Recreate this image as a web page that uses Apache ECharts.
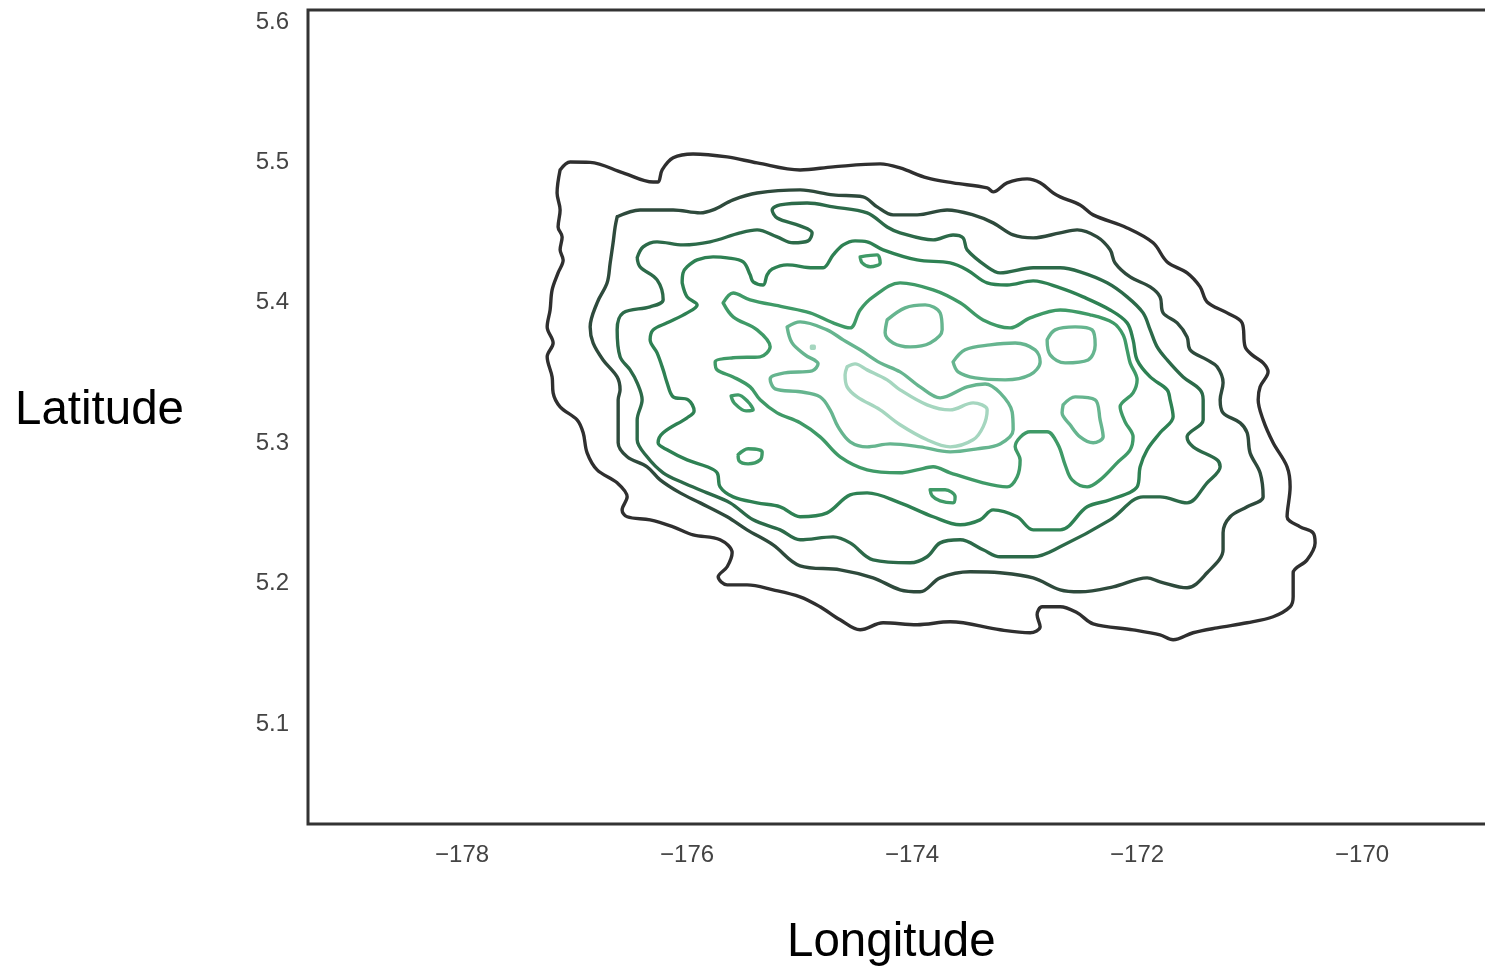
<!DOCTYPE html>
<html>
<head>
<meta charset="utf-8">
<script src="https://cdn.jsdelivr.net/npm/echarts@6/dist/echarts.min.js"></script>
<style>
html,body{margin:0;padding:0;background:#fff;}
#chart{width:1485px;height:974px;}
</style>
</head>
<body>
<div id="chart"></div>
<script>
// ---- tick labels ----
const xTicks = [-178, -176, -174, -172, -170];
const yTicks = [5.1, 5.2, 5.3, 5.4, 5.5, 5.6];
const xRange = [-179.37, -168.81];
const yRange = [5.0288, 5.6085];

// ---- contour levels (outer -> inner), each a list of [longitude, latitude] ----
const level1 = [[-177.129,5.4946],[-177.04,5.5003],[-176.862,5.5],[-176.569,5.4925],[-176.302,5.486],[-176.258,5.486],[-176.222,5.4946],[-176.124,5.5032],[-175.947,5.506],[-175.644,5.5039],[-175.378,5.4996],[-174.996,5.4946],[-174.702,5.4968],[-174.284,5.4989],[-174.107,5.496],[-173.867,5.4889],[-173.636,5.4854],[-173.333,5.4818],[-173.28,5.479],[-173.156,5.4854],[-172.978,5.4882],[-172.862,5.4854],[-172.747,5.4782],[-172.684,5.4754],[-172.507,5.4697],[-172.391,5.4626],[-172.089,5.4533],[-171.858,5.4427],[-171.733,5.4291],[-171.556,5.4213],[-171.44,5.4113],[-171.378,5.4006],[-171.2,5.3928],[-171.067,5.3857],[-171.04,5.3686],[-170.978,5.3629],[-170.88,5.3572],[-170.836,5.3508],[-170.907,5.3401],[-170.924,5.3309],[-170.88,5.3166],[-170.791,5.3003],[-170.667,5.2832],[-170.64,5.2689],[-170.667,5.2476],[-170.551,5.2404],[-170.436,5.2362],[-170.418,5.229],[-170.489,5.2169],[-170.613,5.2077],[-170.613,5.1906],[-170.64,5.1835],[-170.791,5.1764],[-171.022,5.1721],[-171.289,5.1685],[-171.502,5.165],[-171.68,5.16],[-171.796,5.1635],[-172.036,5.1671],[-172.391,5.1714],[-172.533,5.1792],[-172.684,5.1835],[-172.844,5.1835],[-172.889,5.1778],[-172.862,5.1692],[-172.951,5.165],[-173.218,5.1671],[-173.662,5.1728],[-173.956,5.1707],[-174.258,5.1721],[-174.462,5.1671],[-174.64,5.1742],[-174.818,5.1835],[-174.996,5.1906],[-175.236,5.1956],[-175.467,5.1991],[-175.644,5.1991],[-175.724,5.2048],[-175.644,5.212],[-175.6,5.2219],[-175.707,5.2312],[-175.947,5.2347],[-176.124,5.2404],[-176.329,5.2454],[-176.533,5.2476],[-176.578,5.2525],[-176.533,5.2618],[-176.622,5.2718],[-176.8,5.281],[-176.889,5.2931],[-176.924,5.3074],[-176.978,5.3166],[-177.129,5.3259],[-177.191,5.3358],[-177.2,5.3472],[-177.244,5.3615],[-177.191,5.3714],[-177.244,5.3828],[-177.218,5.3949],[-177.2,5.4092],[-177.147,5.4213],[-177.102,5.4305],[-177.129,5.4377],[-177.111,5.4469],[-177.147,5.454],[-177.129,5.4661],[-177.156,5.4782],[-177.129,5.4946]];

const level2 = [[-176.622,5.4612],[-176.418,5.4661],[-176.124,5.4661],[-175.884,5.464],[-175.769,5.4661],[-175.591,5.4733],[-175.378,5.4782],[-174.996,5.4804],[-174.702,5.4768],[-174.436,5.4754],[-174.311,5.4683],[-174.169,5.4626],[-173.956,5.4626],[-173.689,5.4661],[-173.458,5.4626],[-173.28,5.4569],[-173.102,5.4483],[-172.924,5.4462],[-172.684,5.4498],[-172.533,5.4519],[-172.356,5.4469],[-172.24,5.4377],[-172.196,5.4284],[-172.062,5.4184],[-171.884,5.4113],[-171.796,5.4042],[-171.769,5.3928],[-171.644,5.3857],[-171.556,5.3757],[-171.529,5.3665],[-171.378,5.3593],[-171.289,5.3544],[-171.236,5.343],[-171.262,5.3309],[-171.236,5.3216],[-171.084,5.3145],[-171.022,5.3074],[-170.996,5.2931],[-170.907,5.2789],[-170.88,5.2618],[-171.022,5.2547],[-171.173,5.2476],[-171.236,5.2362],[-171.236,5.2241],[-171.378,5.2077],[-171.556,5.197],[-171.796,5.2013],[-171.911,5.2041],[-172.213,5.1977],[-172.507,5.1942],[-172.684,5.1956],[-172.924,5.2041],[-173.218,5.2077],[-173.484,5.2084],[-173.751,5.2041],[-173.929,5.1942],[-174.107,5.1956],[-174.347,5.2041],[-174.64,5.2098],[-174.996,5.2127],[-175.236,5.2276],[-175.467,5.2383],[-175.644,5.2476],[-175.884,5.2575],[-176.062,5.2646],[-176.24,5.2739],[-176.356,5.2832],[-176.533,5.2903],[-176.613,5.3003],[-176.613,5.3166],[-176.613,5.3309],[-176.596,5.338],[-176.622,5.3472],[-176.747,5.3593],[-176.836,5.3714],[-176.862,5.3828],[-176.8,5.4],[-176.711,5.4142],[-176.684,5.4284],[-176.658,5.4427],[-176.64,5.454],[-176.622,5.4612]];

const level3 = [[-176.444,5.432],[-176.391,5.4398],[-176.267,5.4434],[-176.036,5.4412],[-175.796,5.4434],[-175.529,5.4498],[-175.378,5.4519],[-175.2,5.4469],[-175.058,5.4427],[-174.924,5.4441],[-174.889,5.4498],[-174.996,5.4548],[-175.2,5.4604],[-175.244,5.4661],[-175.173,5.4697],[-174.933,5.4711],[-174.702,5.4683],[-174.4,5.464],[-174.222,5.454],[-174.107,5.4498],[-173.813,5.4448],[-173.636,5.4483],[-173.547,5.4462],[-173.511,5.4377],[-173.333,5.4256],[-173.218,5.4213],[-172.924,5.4249],[-172.684,5.4249],[-172.507,5.422],[-172.267,5.4142],[-172.089,5.4042],[-171.947,5.3928],[-171.884,5.3807],[-171.822,5.3686],[-171.733,5.3593],[-171.591,5.3472],[-171.44,5.338],[-171.413,5.3309],[-171.413,5.3166],[-171.556,5.3045],[-171.502,5.2974],[-171.289,5.2881],[-171.262,5.2832],[-171.378,5.2718],[-171.556,5.2575],[-171.796,5.2618],[-171.947,5.2618],[-172.24,5.2454],[-172.684,5.2262],[-172.924,5.2191],[-173.218,5.2191],[-173.369,5.2241],[-173.573,5.2312],[-173.751,5.229],[-173.867,5.2191],[-174.018,5.2148],[-174.347,5.2169],[-174.551,5.229],[-174.702,5.2333],[-174.996,5.2312],[-175.173,5.2383],[-175.413,5.2454],[-175.618,5.2575],[-175.822,5.2646],[-176.036,5.2718],[-176.213,5.2789],[-176.356,5.2903],[-176.444,5.3024],[-176.444,5.3166],[-176.4,5.3309],[-176.444,5.343],[-176.507,5.3522],[-176.596,5.3615],[-176.622,5.3807],[-176.569,5.3928],[-176.329,5.3971],[-176.213,5.4021],[-176.267,5.4163],[-176.418,5.4256],[-176.444,5.432]];

const level4 = [[-176.044,5.4142],[-176.036,5.4213],[-176.0,5.4256],[-175.911,5.4305],[-175.769,5.4327],[-175.644,5.432],[-175.502,5.4291],[-175.44,5.4199],[-175.413,5.4149],[-175.324,5.4127],[-175.289,5.4199],[-175.244,5.4241],[-175.111,5.427],[-174.88,5.4249],[-174.791,5.4249],[-174.702,5.4341],[-174.613,5.4412],[-174.507,5.4441],[-174.4,5.4434],[-174.258,5.4377],[-173.956,5.4305],[-173.662,5.4284],[-173.511,5.4234],[-173.333,5.4142],[-173.156,5.4127],[-172.924,5.4156],[-172.684,5.4106],[-172.48,5.4042],[-172.24,5.3949],[-172.089,5.3857],[-172.036,5.3736],[-172.0,5.3593],[-171.884,5.3472],[-171.733,5.338],[-171.707,5.3309],[-171.68,5.3188],[-171.796,5.3074],[-171.911,5.2953],[-171.973,5.2832],[-172.0,5.2689],[-172.24,5.2597],[-172.444,5.2547],[-172.684,5.2383],[-172.924,5.2383],[-173.067,5.2476],[-173.28,5.2525],[-173.396,5.2454],[-173.573,5.2419],[-173.813,5.2476],[-174.107,5.2575],[-174.4,5.2646],[-174.551,5.2632],[-174.756,5.2504],[-174.996,5.2476],[-175.173,5.2547],[-175.378,5.2575],[-175.591,5.2618],[-175.707,5.2689],[-175.733,5.2789],[-175.822,5.2832],[-176.0,5.2881],[-176.178,5.2953],[-176.258,5.3003],[-176.213,5.3074],[-176.0,5.3181],[-175.938,5.323],[-175.991,5.3309],[-176.124,5.333],[-176.178,5.343],[-176.213,5.3522],[-176.267,5.3643],[-176.329,5.3736],[-176.302,5.3807],[-176.178,5.3857],[-176.0,5.3928],[-175.911,5.3985],[-176.0,5.4042],[-176.044,5.4142]];

const level5 = [[-175.68,5.3999],[-175.591,5.407],[-175.44,5.4021],[-175.147,5.3971],[-174.907,5.3928],[-174.702,5.3857],[-174.551,5.3821],[-174.462,5.3949],[-174.347,5.4042],[-174.107,5.4142],[-173.813,5.4092],[-173.573,5.4],[-173.369,5.3878],[-173.129,5.3821],[-172.951,5.3892],[-172.684,5.3949],[-172.418,5.3914],[-172.213,5.3857],[-172.124,5.3771],[-172.089,5.3665],[-172.062,5.3572],[-172.0,5.3451],[-172.036,5.3358],[-172.151,5.3259],[-172.107,5.3152],[-172.036,5.3045],[-172.062,5.2953],[-172.178,5.286],[-172.329,5.2739],[-172.444,5.2689],[-172.578,5.2739],[-172.64,5.2846],[-172.702,5.2988],[-172.8,5.3081],[-172.951,5.3081],[-173.084,5.2974],[-173.04,5.2881],[-173.067,5.276],[-173.156,5.2689],[-173.369,5.2718],[-173.662,5.2789],[-173.813,5.2832],[-173.956,5.281],[-174.107,5.2789],[-174.4,5.281],[-174.64,5.2903],[-174.818,5.3045],[-174.996,5.3145],[-175.2,5.3216],[-175.351,5.3309],[-175.44,5.3401],[-175.591,5.3472],[-175.733,5.3522],[-175.751,5.3579],[-175.591,5.3608],[-175.351,5.3615],[-175.262,5.3686],[-175.378,5.3807],[-175.591,5.39],[-175.68,5.3999]];
const level5LoopA = [[-174.462,5.4327],[-174.311,5.4341],[-174.284,5.4284],[-174.373,5.4256],[-174.444,5.4284],[-174.462,5.4327]];
const level5LoopB = [[-175.609,5.3337],[-175.547,5.3344],[-175.458,5.3294],[-175.413,5.3237],[-175.476,5.323],[-175.582,5.3287],[-175.609,5.3337]];
const level5LoopC = [[-175.547,5.2917],[-175.458,5.296],[-175.333,5.2938],[-175.351,5.2881],[-175.458,5.2853],[-175.538,5.2874],[-175.547,5.2917]];
const level5LoopD = [[-173.84,5.2668],[-173.707,5.2668],[-173.618,5.2618],[-173.636,5.2575],[-173.751,5.2589],[-173.822,5.2625],[-173.84,5.2668]];

const level6 = [[-175.111,5.3828],[-174.996,5.3864],[-174.756,5.3807],[-174.613,5.3736],[-174.462,5.3665],[-174.284,5.3572],[-174.107,5.3508],[-173.929,5.3401],[-173.751,5.3323],[-173.511,5.3401],[-173.351,5.3422],[-173.218,5.3358],[-173.111,5.3223],[-173.102,5.3095],[-173.218,5.2995],[-173.422,5.2960],[-173.662,5.2938],[-173.929,5.2974],[-174.196,5.2995],[-174.4,5.2974],[-174.551,5.3010],[-174.658,5.3116],[-174.729,5.3237],[-174.818,5.3330],[-174.996,5.3366],[-175.218,5.3387],[-175.262,5.3458],[-175.129,5.3501],[-174.889,5.3515],[-174.836,5.3565],[-174.951,5.3629],[-175.067,5.3714],[-175.111,5.3828]];
const level6LoopE = [[-174.222,5.3878],[-174.062,5.3964],[-173.884,5.3985],[-173.751,5.3928],[-173.733,5.3807],[-173.84,5.3714],[-174.018,5.3686],[-174.169,5.3714],[-174.24,5.3786],[-174.222,5.3878]];
const level6LoopF = [[-173.636,5.3579],[-173.529,5.3665],[-173.307,5.37],[-173.084,5.3714],[-172.907,5.3665],[-172.862,5.3579],[-172.951,5.3487],[-173.173,5.3451],[-173.44,5.3465],[-173.591,5.3508],[-173.636,5.3579]];
const level6LoopG = [[-172.8,5.3736],[-172.729,5.3807],[-172.551,5.3828],[-172.4,5.3807],[-172.373,5.37],[-172.436,5.3593],[-172.64,5.3572],[-172.773,5.3629],[-172.8,5.3736]];
const level6LoopH = [[-172.658,5.3273],[-172.551,5.333],[-172.373,5.3309],[-172.329,5.3166],[-172.302,5.3045],[-172.391,5.3003],[-172.507,5.3045],[-172.596,5.3131],[-172.667,5.3216],[-172.658,5.3273]];

const level7 = [[-174.578,5.3544],[-174.507,5.3565],[-174.4,5.3522],[-174.222,5.3451],[-174.107,5.338],[-173.867,5.3273],[-173.662,5.3237],[-173.458,5.3287],[-173.333,5.3237],[-173.369,5.3116],[-173.458,5.3024],[-173.662,5.2974],[-173.867,5.3024],[-174.107,5.3131],[-174.284,5.3237],[-174.489,5.333],[-174.578,5.3401],[-174.596,5.3487],[-174.578,5.3544]];
const level7Dot = [[-174.895,5.3690],[-174.870,5.3690],[-174.870,5.3676],[-174.895,5.3676],[-174.895,5.3690]];

// ---- styling ----
const levelColors = ['#2f2f2f', '#2e4a3c', '#2c6a49', '#2e8153', '#3f9a67', '#66b58f', '#a5d6bf'];

const contours = [
  {level: 0, pts: level1},
  {level: 1, pts: level2},
  {level: 2, pts: level3},
  {level: 3, pts: level4},
  {level: 4, pts: level5},
  {level: 4, pts: level5LoopA},
  {level: 4, pts: level5LoopB},
  {level: 4, pts: level5LoopC},
  {level: 4, pts: level5LoopD},
  {level: 5, pts: level6},
  {level: 5, pts: level6LoopE},
  {level: 5, pts: level6LoopF},
  {level: 5, pts: level6LoopG},
  {level: 5, pts: level6LoopH},
  {level: 6, pts: level7},
  {level: 6, pts: level7Dot}
];

const chart = echarts.init(document.getElementById('chart'), null, {renderer: 'canvas'});
const fmtX = v => (v < 0 ? '\u2212' : '') + Math.abs(v);
chart.setOption({
  animation: false,
  backgroundColor: '#ffffff',
  grid: {left: 308, top: 10, width: 1188, height: 814, outerBoundsMode: 'none', containLabel: false,
         show: true, borderColor: '#333333', borderWidth: 3, backgroundColor: 'transparent'},
  xAxis: {
    type: 'value', min: xRange[0], max: xRange[1],
    axisLine: {show: false}, axisTick: {show: false}, splitLine: {show: false},
    axisLabel: {customValues: xTicks, formatter: fmtX, color: '#444', fontSize: 24, fontFamily: 'Liberation Sans, Arial, sans-serif', margin: 19}
  },
  yAxis: {
    type: 'value', min: yRange[0], max: yRange[1],
    axisLine: {show: false}, axisTick: {show: false}, splitLine: {show: false},
    axisLabel: {customValues: yTicks, formatter: v => v.toFixed(1), color: '#444', fontSize: 24, fontFamily: 'Liberation Sans, Arial, sans-serif', margin: 19}
  },
  graphic: [
    {type: 'text', left: 15, top: 387, style: {text: 'Latitude', font: '47.5px "Liberation Sans", Arial, sans-serif', fill: '#000'}},
    {type: 'text', left: 787, top: 919, style: {text: 'Longitude', font: '47.5px "Liberation Sans", Arial, sans-serif', fill: '#000'}}
  ],
  series: contours.map(c => ({
    type: 'line',
    data: c.pts,
    showSymbol: false,
    smooth: 0.35,
    clip: true,
    silent: true,
    lineStyle: {color: levelColors[c.level], width: 3.4, cap: 'round', join: 'round'},
    z: 2 + c.level
  }))
});
</script>
</body>
</html>
